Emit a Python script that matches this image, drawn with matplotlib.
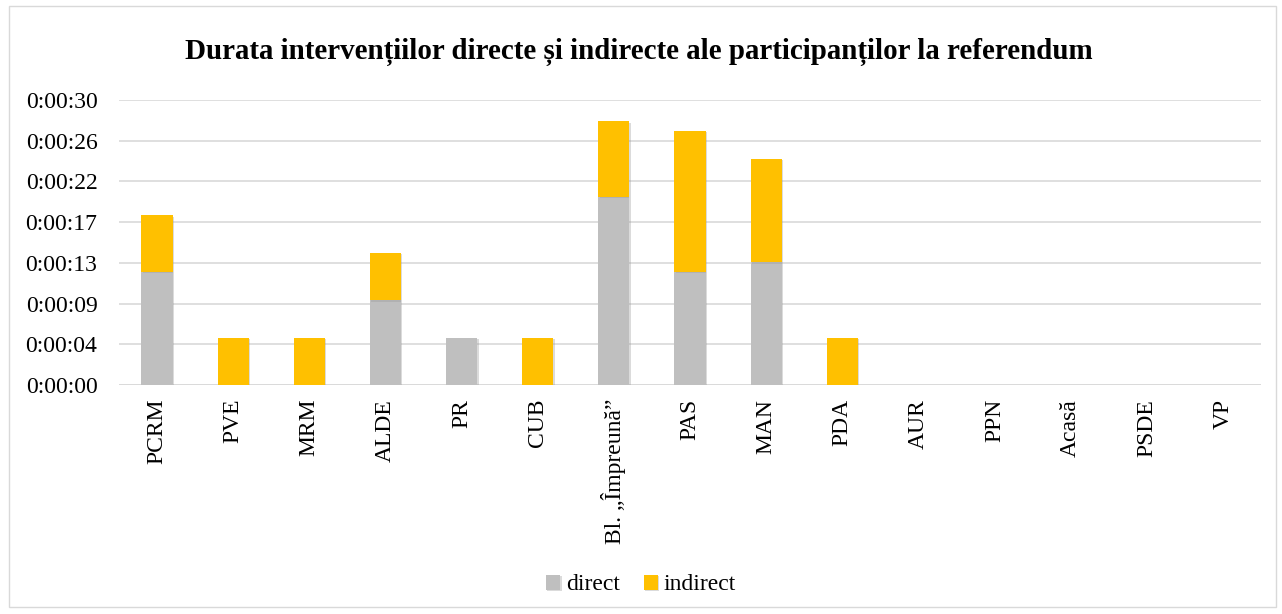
import matplotlib.pyplot as plt
import matplotlib.patheffects as pe
from matplotlib.patches import Rectangle
from matplotlib.ticker import FuncFormatter
import numpy as np

plt.rcParams['font.family'] = ['Liberation Serif', 'DejaVu Serif']

parties = ['PCRM', 'PVE', 'MRM', 'ALDE', 'PR', 'CUB', 'Bl. „Împreună”', 'PAS', 'MAN',
           'PDA', 'AUR', 'PPN', 'Acasă', 'PSDE', 'VP']
# durations in seconds
direct = [12, 0, 0, 9, 5, 0, 20, 12, 13, 0, 0, 0, 0, 0, 0]
indirect = [6, 5, 5, 5, 0, 5, 8, 15, 11, 5, 0, 0, 0, 0, 0]

step = 4.32  # Excel major unit 0.00005 day
x = np.arange(len(parties))

fig = plt.figure(figsize=(12.82, 6.14), dpi=100)
fig.patches.append(Rectangle((0.007, 0.012), 0.988, 0.978, transform=fig.transFigure,
                             fill=False, edgecolor='#D9D9D9', linewidth=1))
ax = fig.add_axes([119 / 1282, 1 - 385 / 614, 1142 / 1282, 285 / 614])

shadow = [pe.SimplePatchShadow(offset=(1, -1), shadow_rgbFace='#999999', alpha=0.35), pe.Normal()]
b1 = ax.bar(x, direct, width=0.41, color='#BFBFBF', label='direct', zorder=3)
b2 = ax.bar(x, indirect, width=0.41, bottom=direct, color='#FFC000', label='indirect', zorder=3)
for b in list(b1) + list(b2):
    b.set_path_effects(shadow)

ax.set_xlim(-0.5, len(parties) - 0.5)
ax.set_ylim(0, 7 * step)
ax.set_yticks([i * step for i in range(8)])


def fmt(v, pos):
    s = int(round(v))
    return '%d:%02d:%02d' % (s // 3600, (s % 3600) // 60, s % 60)


ax.yaxis.set_major_formatter(FuncFormatter(fmt))
ax.grid(axis='y', color='#D9D9D9', linewidth=1.2, zorder=0)
for s in ax.spines.values():
    s.set_visible(False)
ax.axhline(0, color='#D9D9D9', linewidth=1.2, zorder=2)
ax.tick_params(axis='both', length=0, labelsize=17, colors='#000000')
ax.tick_params(axis='y', pad=15.5)
ax.tick_params(axis='x', pad=10)
ax.set_xticks(x)
ax.set_xticklabels(parties, rotation=90)

fig.text(639 / 1282, 1 - 52 / 614, 'Durata intervențiilor directe și indirecte ale participanților la referendum',
         ha='center', va='center', fontsize=20.9, fontweight='bold')
fig.legend(handles=[b1, b2], labels=['direct', 'indirect'], loc='center',
           bbox_to_anchor=(0.5, 1 - 585 / 614), ncol=2, frameon=False, fontsize=17,
           handlelength=0.6, handleheight=0.6, handletextpad=0.25, columnspacing=1.0)

fig.savefig('out.png', dpi=100)
